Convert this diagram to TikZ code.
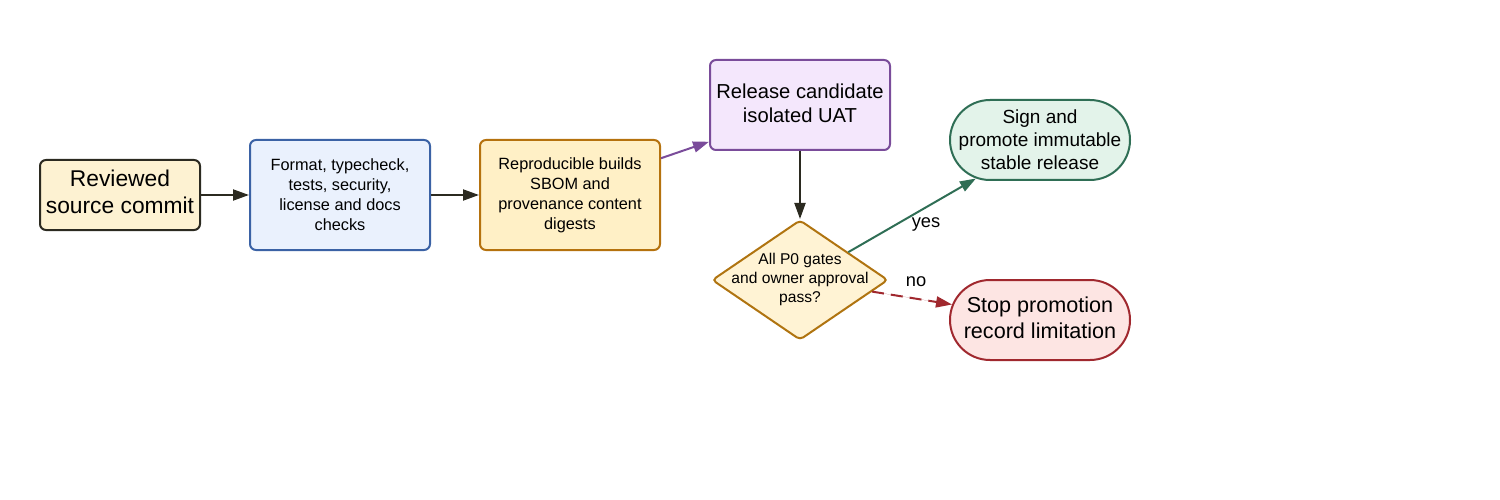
\documentclass[tikz,border=0pt]{standalone}
\usepackage{fontspec}
\setmainfont{Liberation Sans}
\usetikzlibrary{shapes.geometric,shapes.misc,arrows.meta}
\definecolor{aF}{HTML}{FDF2D2}\definecolor{aD}{HTML}{2B2A20}
\definecolor{bF}{HTML}{EAF1FD}\definecolor{bD}{HTML}{3B62A5}
\definecolor{cF}{HTML}{FFF0C6}\definecolor{cD}{HTML}{B5720E}
\definecolor{dF}{HTML}{F4E7FC}\definecolor{dD}{HTML}{7A4C9A}
\definecolor{eF}{HTML}{FFF3D4}\definecolor{eD}{HTML}{B07410}
\definecolor{fF}{HTML}{E3F3EA}\definecolor{fD}{HTML}{2F6E55}
\definecolor{gF}{HTML}{FDE5E3}\definecolor{gD}{HTML}{A0282E}
\tikzset{
  box/.style={rectangle,rounded corners=6pt,line width=2pt,inner sep=0pt,align=center},
  pill/.style={rounded rectangle,line width=2pt,inner sep=0pt,minimum width=180pt,minimum height=80pt},
  txt/.style={align=center,inner sep=0pt},
  conn/.style={line width=2pt,-{Triangle[length=16pt,width=11pt]}},
  small/.style={font=\fontsize{16.3}{20}\selectfont},
  lbl/.style={font=\fontsize{18.3}{20}\selectfont,inner sep=0pt}
}
\begin{document}
\begin{tikzpicture}[x=1pt,y=-1pt]
\useasboundingbox (0,0) rectangle (1500,500);
\node[box,fill=aF,draw=aD,minimum width=160pt,minimum height=70pt] (A) at (120,195) {};
\node[txt,font=\fontsize{22.8}{27}\selectfont] (At) at (120,192) {Reviewed\\source commit};
\node[box,small,fill=bF,draw=bD,minimum width=180pt,minimum height=110pt] (B) at (340,195) {Format, typecheck,\\tests, security,\\license and docs\\checks};
\node[box,small,fill=cF,draw=cD,minimum width=180pt,minimum height=110pt] (C) at (570,195) {Reproducible builds\\SBOM and\\provenance content\\digests};
\node[box,fill=dF,draw=dD,minimum width=180pt,minimum height=90pt] (D) at (800,105) {};
\node[txt,font=\fontsize{20.2}{24}\selectfont] (Dt) at (800,103) {Release candidate\\isolated UAT};
\node[diamond,fill=eF,draw=eD,line width=2pt,rounded corners=4pt,inner sep=0pt,minimum width=176pt,minimum height=120pt] (E) at (800,280) {};
\node[txt,font=\fontsize{15.6}{19}\selectfont] (Et) at (800,279.5) {All P0 gates\\and owner approval\\pass?};
\node[pill,fill=fF,draw=fD] (F) at (1040,140) {};
\node[txt,font=\fontsize{19}{23}\selectfont] (Ft) at (1040,139.5) {Sign and\\promote immutable\\stable release};
\node[pill,fill=gF,draw=gD] (G) at (1040,320) {};
\node[txt,font=\fontsize{21.6}{26}\selectfont] (Gt) at (1040,318) {Stop promotion\\record limitation};
\draw[conn,draw=aD,fill=aD] (A) -- (B);
\draw[conn,draw=aD,fill=aD] (B) -- (C);
\draw[conn,draw=dD,fill=dD] (C.22) -- (D.202);
\draw[conn,draw=aD,fill=aD] (D) -- (E);
\draw[conn,draw=fD,fill=fD] (E) -- (F.211);
\node[lbl] (yes) at (926,224) {yes};
\draw[conn,draw=gD,fill=gD,dash pattern=on 12pt off 7pt] (E) -- (G.170);
\node[lbl] (no) at (916,282) {no};
\end{tikzpicture}
\end{document}
